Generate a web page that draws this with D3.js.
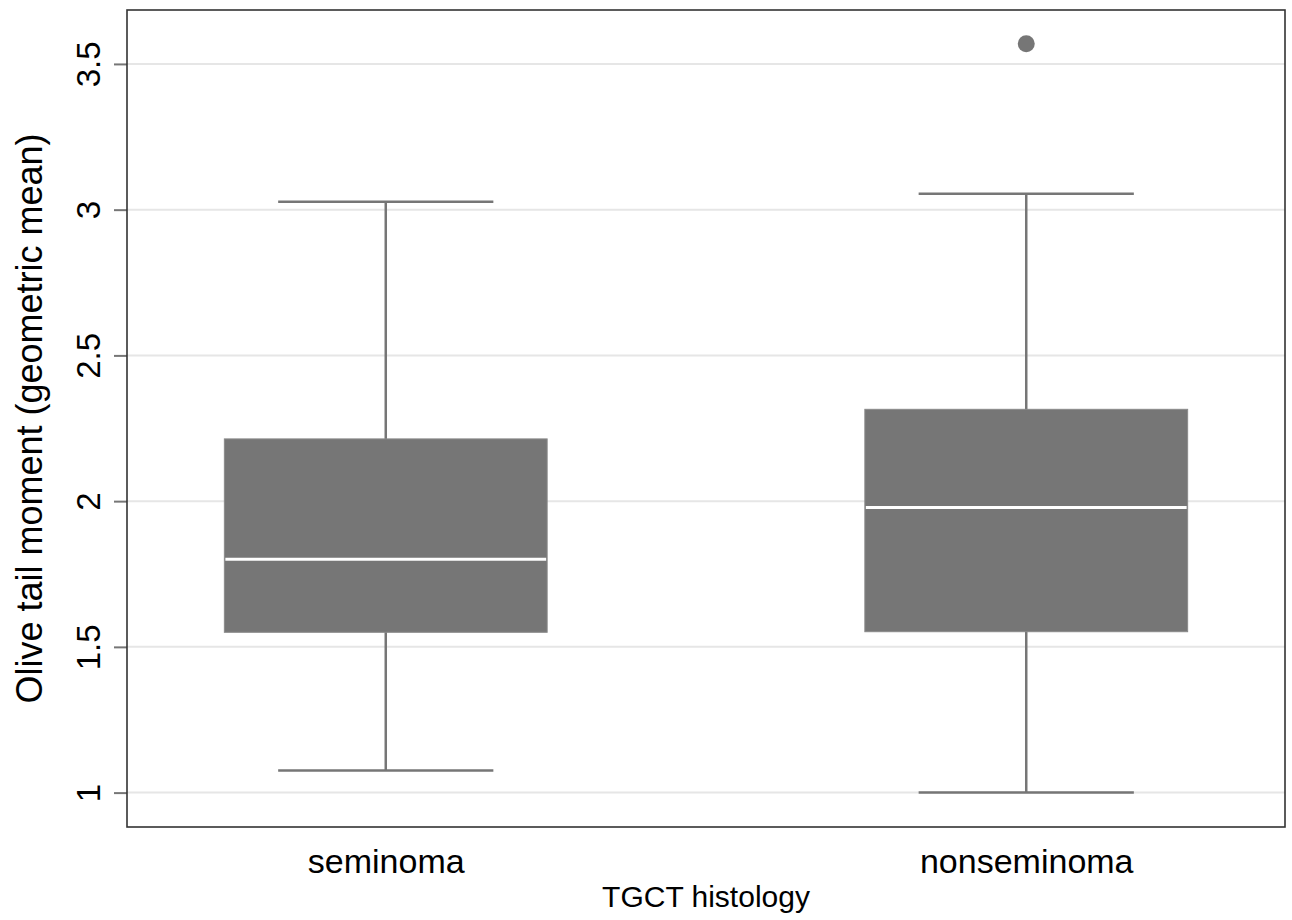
<!DOCTYPE html>
<html>
<head>
<meta charset="utf-8">
<script src="https://cdn.jsdelivr.net/npm/d3@7"></script>
<style>
  body { margin: 0; background: #fff; }
  text { font-family: "Liberation Sans", Arial, sans-serif; fill: #000; }
</style>
</head>
<body>
<svg id="canvas"></svg>
<script>
// values
let groups = ["seminoma", "nonseminoma"];
let q1 = [1.550, 1.552];
let medians = [1.801, 1.978];
let q3 = [2.2135, 2.315];
let whiskerLow = [1.0755, 1.0];
let whiskerHigh = [3.027, 3.055];
let outliers = [[], [3.569]];
let yTicks = [1, 1.5, 2, 2.5, 3, 3.5];

let width = 1292, height = 920;
let margin = { top: 10, right: 7, bottom: 93, left: 127 };

let canvas = d3.select("#canvas").attr("width", width).attr("height", height);

let x = d3.scalePoint()
  .domain(groups)
  .range([margin.left, width - margin.right])
  .padding(0.404);

let y = d3.scaleLinear()
  .domain([0.882, 3.685])
  .range([height - margin.bottom, margin.top]);

let boxW = x.step() * 0.504;
let capW = boxW * 2 / 3;
let gray = "#767676";

// gridlines
canvas.append("g")
  .selectAll("line")
  .data(yTicks)
  .enter()
  .append("line")
  .attr("x1", margin.left)
  .attr("x2", width - margin.right)
  .attr("y1", (d) => y(d))
  .attr("y2", (d) => y(d))
  .attr("stroke", "#e6e6e6")
  .attr("stroke-width", 2);

let boxes = canvas.append("g")
  .selectAll("g")
  .data(groups)
  .enter()
  .append("g");

// whiskers
boxes.append("line")
  .attr("x1", (d) => x(d))
  .attr("x2", (d) => x(d))
  .attr("y1", (d, i) => y(whiskerLow[i]))
  .attr("y2", (d, i) => y(whiskerHigh[i]))
  .attr("stroke", gray)
  .attr("stroke-width", 2.5);

boxes.selectAll(".cap")
  .data((d, i) => [[d, whiskerLow[i]], [d, whiskerHigh[i]]])
  .enter()
  .append("line")
  .attr("class", "cap")
  .attr("x1", (d) => x(d[0]) - capW / 2)
  .attr("x2", (d) => x(d[0]) + capW / 2)
  .attr("y1", (d) => y(d[1]))
  .attr("y2", (d) => y(d[1]))
  .attr("stroke", gray)
  .attr("stroke-width", 2.5);

// boxes
boxes.append("rect")
  .attr("x", (d) => x(d) - boxW / 2)
  .attr("width", boxW)
  .attr("y", (d, i) => y(q3[i]))
  .attr("height", (d, i) => y(q1[i]) - y(q3[i]))
  .attr("fill", gray)
  .attr("stroke", "#8a8a8a")
  .attr("stroke-width", 1);

// medians
boxes.append("line")
  .attr("x1", (d) => x(d) - boxW / 2 + 1)
  .attr("x2", (d) => x(d) + boxW / 2 - 1)
  .attr("y1", (d, i) => y(medians[i]))
  .attr("y2", (d, i) => y(medians[i]))
  .attr("stroke", "#fff")
  .attr("stroke-width", 3);

// outliers
boxes.selectAll("circle")
  .data((d, i) => outliers[i].map((v) => [d, v]))
  .enter()
  .append("circle")
  .attr("cx", (d) => x(d[0]))
  .attr("cy", (d) => y(d[1]))
  .attr("r", 8.5)
  .attr("fill", gray);

// y axis
let yAxis = canvas.append("g")
  .attr("transform", "translate(" + margin.left + ",0)")
  .call(d3.axisLeft(y).tickValues(yTicks).tickSize(13).tickPadding(0).tickFormat(d3.format("")));
yAxis.select(".domain").remove();
yAxis.selectAll(".tick line").attr("stroke", gray).attr("stroke-width", 2);
yAxis.selectAll(".tick text")
  .attr("transform", "translate(-27,0) rotate(-90)")
  .attr("x", 0)
  .attr("y", 0)
  .attr("dy", 0)
  .attr("text-anchor", "middle")
  .style("font-size", "33px");

// x tick labels
let xAxis = canvas.append("g")
  .attr("transform", "translate(0," + (height - margin.bottom) + ")")
  .call(d3.axisBottom(x).tickSize(0).tickPadding(0));
xAxis.select(".domain").remove();
xAxis.selectAll(".tick text")
  .attr("y", 46)
  .attr("dy", 0)
  .style("font-size", "34px");

// frame
canvas.append("rect")
  .attr("x", margin.left)
  .attr("y", margin.top)
  .attr("width", width - margin.left - margin.right)
  .attr("height", height - margin.top - margin.bottom)
  .attr("fill", "none")
  .attr("stroke", "#333")
  .attr("stroke-width", 1.6);

// axis titles
canvas.append("text")
  .attr("x", (margin.left + width - margin.right) / 2)
  .attr("y", 907)
  .attr("text-anchor", "middle")
  .style("font-size", "30px")
  .text("TGCT histology");

canvas.append("text")
  .attr("transform", "translate(42," + (margin.top + height - margin.bottom) / 2 + ") rotate(-90)")
  .attr("text-anchor", "middle")
  .style("font-size", "36px")
  .text("Olive tail moment (geometric mean)");
</script>
</body>
</html>
